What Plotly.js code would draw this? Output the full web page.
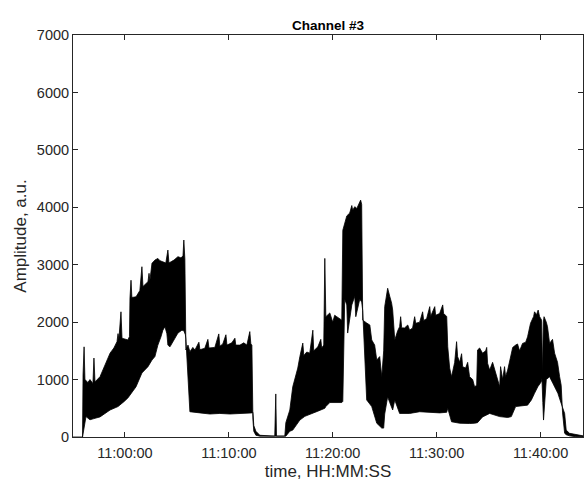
<!DOCTYPE html>
<html>
<head>
<meta charset="utf-8">
<script src="https://cdn.plot.ly/plotly-3.0.1.min.js"></script>
<style>html,body{margin:0;padding:0;background:#fff;}#chart{width:586px;height:487px;}</style>
</head>
<body>
<div id="chart"></div>
<script>
// Time in minutes relative to 11:00:00, amplitude in a.u.
// Upper envelope of the dense signal
const upperMin = [-5.00,-4.09,-4.04,-3.94,-3.85,-3.56,-3.37,-3.08,-2.98,-2.88,-2.40,-1.92,-1.44,-1.06,-0.77,-0.67,-0.58,-0.38,-0.29,0.29,0.43,0.48,0.58,0.67,1.06,1.44,1.63,1.73,2.02,2.21,2.31,2.40,2.60,2.88,3.17,3.37,3.65,3.94,4.13,4.23,4.52,4.71,5.10,5.38,5.58,5.67,5.77,5.87,6.06,6.25,6.54,6.73,7.12,7.21,7.69,7.98,8.08,8.65,9.04,9.13,9.42,9.71,9.81,10.29,10.58,10.67,11.06,11.44,11.73,12.02,12.12,12.21,12.31,12.40,12.60,12.98,14.42,14.52,14.59,15.38,15.48,15.87,16.15,16.35,16.63,16.83,17.12,17.21,17.50,17.79,18.08,18.17,18.56,18.85,18.94,19.13,19.23,19.33,19.71,20.00,20.19,20.38,20.67,20.87,20.96,21.15,21.35,21.63,21.83,21.92,22.12,22.31,22.60,22.69,22.79,22.88,23.27,23.56,23.75,24.04,24.23,24.52,24.71,24.90,25.00,25.19,25.29,25.48,25.67,25.77,25.96,26.25,26.44,26.54,26.63,26.92,27.21,27.40,27.69,27.88,27.98,28.37,28.65,28.75,29.04,29.33,29.42,29.81,29.90,30.29,30.58,30.67,30.96,31.06,31.25,31.44,31.73,31.92,32.02,32.21,32.40,32.50,32.79,32.98,33.17,33.46,33.65,33.85,33.94,34.13,34.42,34.71,34.81,34.90,35.10,35.38,35.67,36.06,36.15,36.35,36.54,36.63,36.83,37.02,37.18,37.31,37.60,37.79,37.98,38.27,38.56,38.75,39.04,39.33,39.42,39.62,39.76,39.90,40.10,40.19,40.27,40.34,40.55,40.67,40.87,41.15,41.35,41.63,41.83,41.99,42.12,42.31,42.47,42.79,43.37,44.09];
const upperVal = [0,0,1080,1570,1000,950,1000,930,1375,960,1050,1250,1460,1550,1660,1800,1700,2180,1720,1690,1750,2420,2730,2430,2440,2550,2965,2620,2680,2705,2850,2720,3025,3080,3110,3070,3050,3030,3255,3030,3060,3080,3140,3120,3150,3430,3100,1515,1600,1485,1560,1515,1650,1520,1545,1700,1550,1560,1795,1580,1620,1780,1600,1640,1720,1600,1600,1640,1600,1835,1620,1600,300,100,30,15,15,750,15,15,250,470,875,1000,1200,1400,1635,1420,1480,1460,1860,1500,1570,1700,1550,1600,3110,2095,2160,2000,2120,2095,2050,2035,3600,3700,3850,3900,4030,3950,4010,3980,4095,4125,4050,2035,1985,1950,1690,1600,1340,1400,1050,1500,2270,2480,2590,2450,2330,2210,1690,1850,1920,2095,1900,1900,1950,1860,1900,2095,1980,2000,2180,2030,2060,2270,2100,2270,2120,2150,2300,2150,2100,1570,1200,1050,1300,1660,1400,1300,1450,1225,1200,1300,1050,1000,875,900,1515,1550,1460,1500,1560,1285,1165,1300,1110,875,1225,1000,1225,1050,1165,1300,1460,1560,1600,1620,1500,1630,1650,1745,1980,2100,2180,2130,2210,2100,2035,1100,2000,2095,2000,1920,1630,1700,1460,1300,1050,900,420,65,40,20,5];
// Lower envelope of the dense signal
const lowerMin = [-5.00,-4.09,-4.04,-3.75,-3.37,-2.98,-2.40,-1.92,-1.44,-0.67,-0.10,0.29,0.48,1.06,1.63,2.21,2.60,2.88,3.17,3.46,3.65,3.85,4.04,4.13,4.33,4.71,5.10,5.48,5.67,5.82,5.87,6.25,7.21,8.17,9.13,10.10,11.06,12.21,12.31,12.40,12.60,12.98,14.42,15.38,15.48,15.87,16.15,16.83,17.31,17.79,18.56,19.23,19.33,19.71,20.87,20.96,21.15,21.35,21.44,21.83,22.12,22.21,22.60,22.79,22.88,23.27,23.75,24.23,24.71,24.90,25.00,25.29,25.48,25.77,25.96,26.44,27.40,28.37,29.33,30.29,30.96,31.06,31.44,32.21,33.17,33.65,33.94,34.42,35.10,36.06,36.83,37.18,37.60,38.27,38.75,39.11,39.42,39.74,40.07,40.14,40.22,40.29,40.36,40.55,40.87,41.18,41.66,41.99,42.31,42.47,42.79,43.37,44.09];
const lowerVal = [0,0,355,300,320,350,415,470,530,615,680,730,875,1115,1225,1340,1400,1600,1745,1860,1920,1800,1600,1570,1700,1810,1860,1850,1780,1700,440,420,400,410,400,410,420,430,200,100,30,15,15,15,100,120,295,360,400,450,500,530,600,600,620,2400,2300,1810,2300,2450,2095,2400,2350,2200,645,530,240,155,155,400,700,600,470,645,410,410,440,430,420,430,500,265,240,235,240,250,350,410,355,340,355,530,540,555,645,760,875,960,1020,600,295,600,1000,1050,935,760,585,410,120,65,40,20,5];

const tickMin = [0,10,20,30,40];
const tickText = ['11:00:00','11:10:00','11:20:00','11:30:00','11:40:00'];
const xRangeMin = [-5.00, 44.09];

function toDate(m){
  let s = Math.round(m*60) + 11*3600;
  const hh = Math.floor(s/3600); s -= hh*3600;
  const mm = Math.floor(s/60); const ss = s - mm*60;
  const p = n => (n<10?'0':'')+n;
  return '2000-01-01 ' + p(hh)+':'+p(mm)+':'+p(ss);
}

const polyX = upperMin.map(toDate).concat(lowerMin.slice().reverse().map(toDate));
const polyY = upperVal.concat(lowerVal.slice().reverse());

const trace = {
  x: polyX, y: polyY, type:'scatter', mode:'lines',
  fill:'toself', fillcolor:'#000000',
  line:{color:'#000000', width:0.8},
  hoverinfo:'skip', showlegend:false
};

const FAM = '"Liberation Sans", Arial, sans-serif';
const axisFont = {family:FAM, size:14.5, color:'#262626'};
const layout = {
  width:586, height:487,
  margin:{l:73, r:3, t:35, b:50},
  paper_bgcolor:'#ffffff', plot_bgcolor:'#ffffff',
  font:{family:FAM, color:'#262626'},
  title:{text:'<b>Channel #3</b>', font:{family:FAM, size:13.5, color:'#000000'},
         x:0.5, xref:'paper', xanchor:'center', y:1, yref:'paper', yanchor:'bottom', pad:{b:5}},
  xaxis:{
    type:'date', range:xRangeMin.map(toDate),
    tickvals: tickMin.map(toDate), ticktext: tickText,
    ticks:'inside', ticklen:5, tickcolor:'#262626', tickwidth:1,
    showline:true, linecolor:'#262626', linewidth:1, mirror:'ticks',
    showgrid:false, zeroline:false, tickfont:axisFont, ticklabelstandoff:3,
    title:{text:'time, HH:MM:SS', font:{family:FAM, size:17, color:'#262626'}, standoff:4}
  },
  yaxis:{
    range:[0,7000], tickvals:[0,1000,2000,3000,4000,5000,6000,7000],
    ticks:'inside', ticklen:5, tickcolor:'#262626', tickwidth:1,
    showline:true, linecolor:'#262626', linewidth:1, mirror:'ticks',
    showgrid:false, zeroline:false, tickfont:axisFont,
    title:{text:'Amplitude, a.u.', font:{family:FAM, size:17, color:'#262626'}, standoff:5}
  }
};

Plotly.newPlot('chart', [trace], layout, {displayModeBar:false, staticPlot:true});
</script>
</body>
</html>
